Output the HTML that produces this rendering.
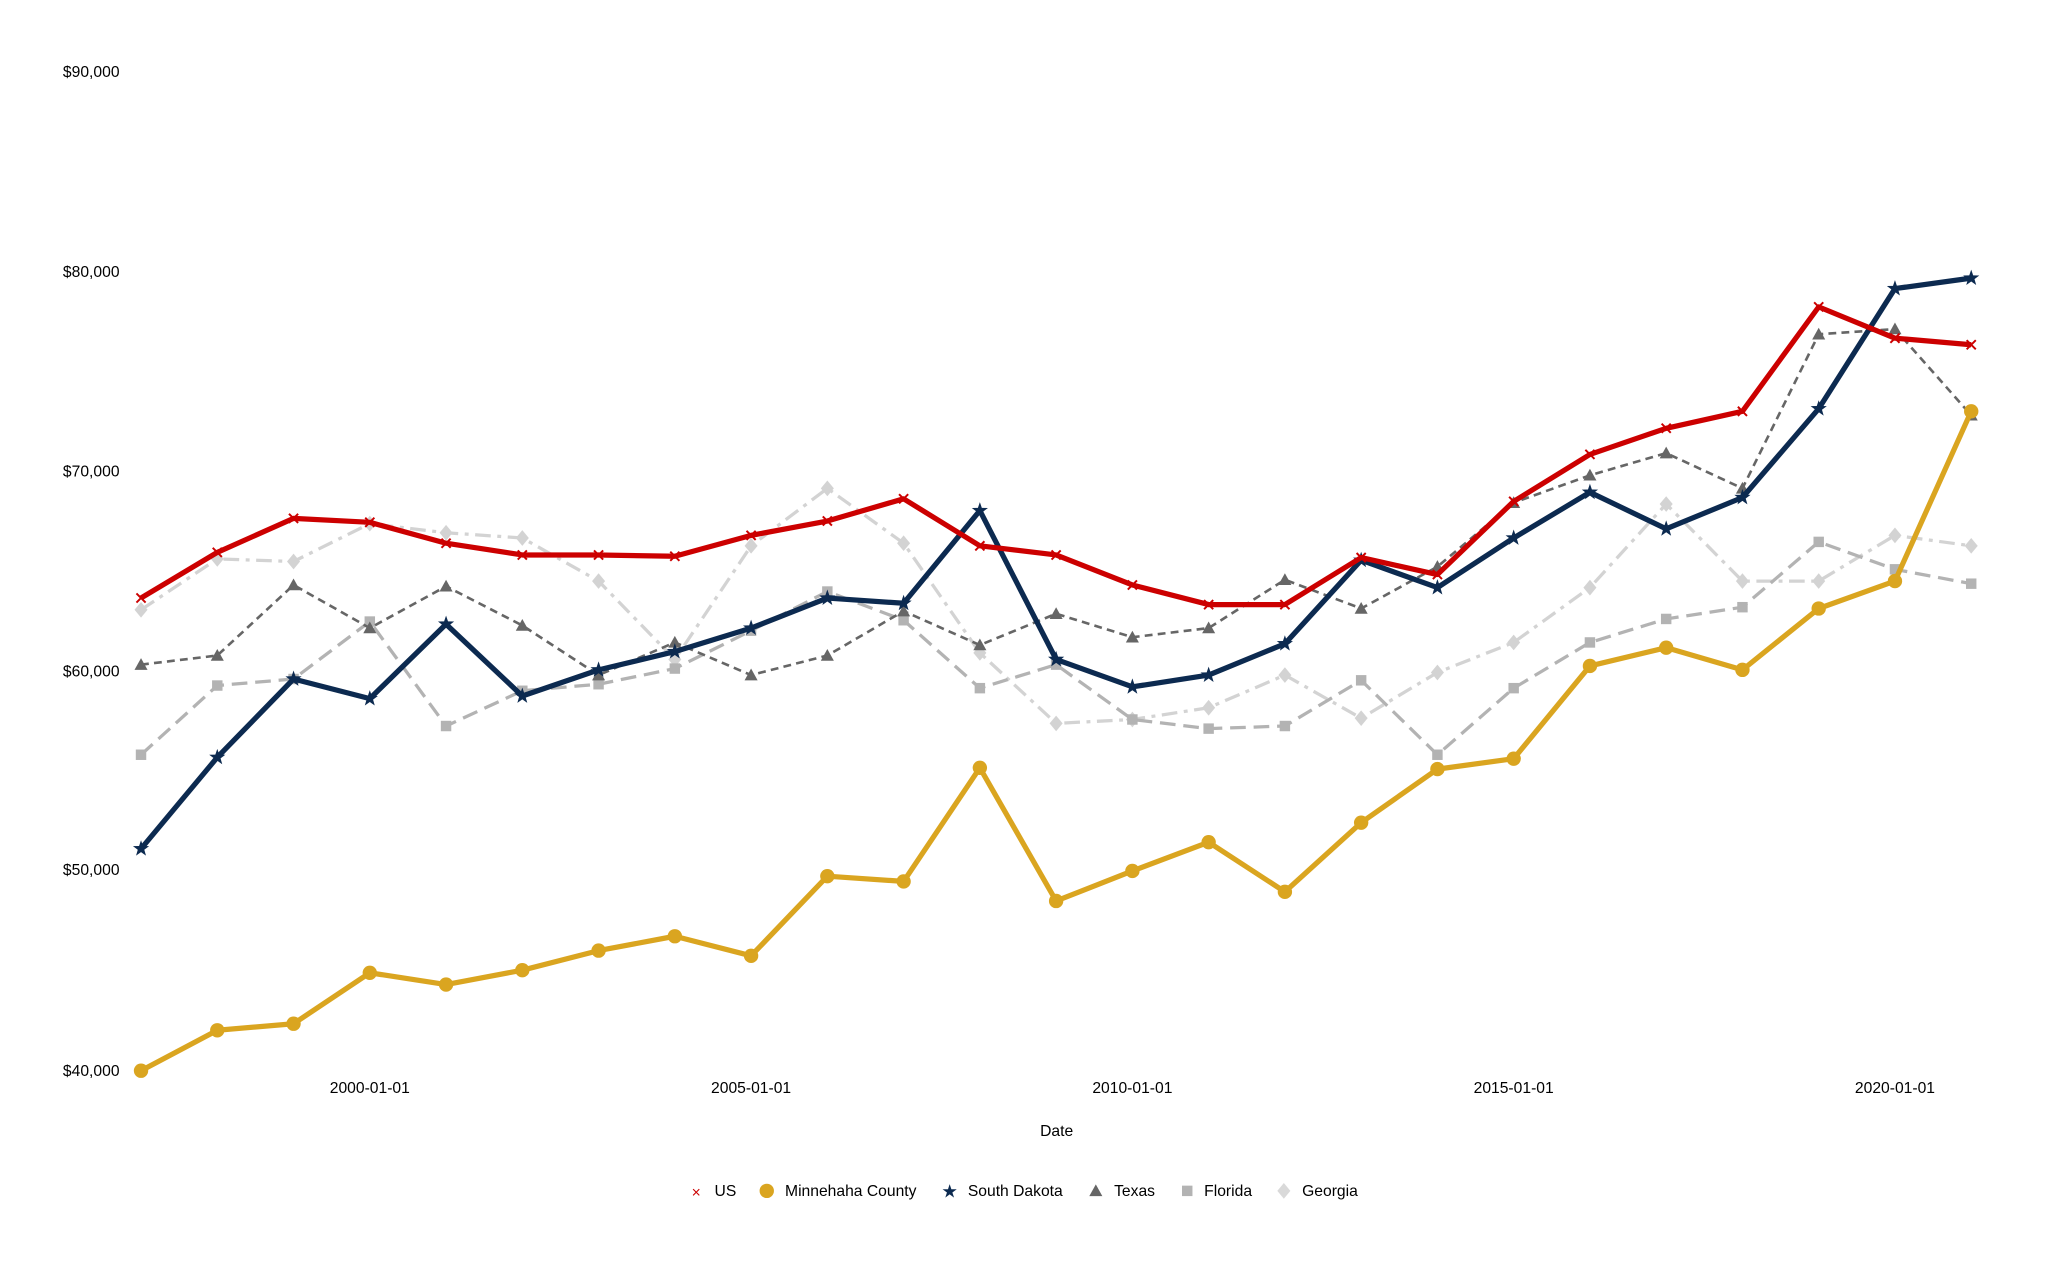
<!DOCTYPE html>
<html><head><meta charset="utf-8"><style>html,body{margin:0;padding:0;background:#fff}svg{display:block}text{font-family:"Liberation Sans",sans-serif;fill:#000}</style></head>
<body>
<svg id="s" width="2048" height="1264" viewBox="0 0 1568 968" xmlns="http://www.w3.org/2000/svg">
<g font-size="12" text-anchor="start">
<text x="48" y="59">$90,000</text>
<text x="48" y="212">$80,000</text>
<text x="48" y="365">$70,000</text>
<text x="48" y="518">$60,000</text>
<text x="48" y="670">$50,000</text>
<text x="48" y="824">$40,000</text>
</g>
<g font-size="12" text-anchor="middle">
<text x="283" y="837">2000-01-01</text>
<text x="575" y="837">2005-01-01</text>
<text x="867" y="837">2010-01-01</text>
<text x="1159" y="837">2015-01-01</text>
<text x="1451" y="837">2020-01-01</text>
<text x="809" y="870">Date</text>
</g>
<g id="series"></g>
<g font-size="12">
<text x="533" y="917" text-anchor="middle" fill="#cc0000" style="fill:#cc0000">×</text>
<text x="547" y="916">US</text>
<circle cx="587" cy="912" r="5.5" fill="#daa520"/>
<text x="601" y="916">Minnehaha County</text>
<text x="727" y="917" text-anchor="middle" style="fill:#0c2a50" font-size="14">★</text>
<text x="741" y="916">South Dakota</text>
<polygon points="839,907 844,916 834,916" fill="#666"/>
<text x="853" y="916">Texas</text>
<rect x="905" y="908" width="8" height="8" fill="#b3b3b3"/>
<text x="922" y="916">Florida</text>
<polygon points="983,906 988,912 983,918 978,912" fill="#d9d9d9"/>
<text x="997" y="916">Georgia</text>
</g>
</svg>
<script>
const X=i=>107.8+58.4*i;
const S=[
{c:"#d3d3d3",w:2.5,d:"12 5 3 5",m:"dia",v:[467,428,430,401,408,412,445,505,418,374,416,500,554,551,542,517,550,515,492,450,386,445,445,410,418]},
{c:"#b3b3b3",w:2.5,d:"12 6",m:"sq",v:[578,525,520,476,556,529,524,512,483,453,475,527,509,551,558,556,521,578,527,492,474,465,415,436,447]},
{c:"#666666",w:2,d:"6 4",m:"tri",v:[509,502,448,481,449,479,517,492,517,502,468,494,470,488,481,444,466,434,385,364,347,374,256,252,318]},
{c:"#daa520",w:4,d:"",m:"circ",v:[820,789,784,745,754,743,728,717,732,671,675,588,690,667,645,683,630,589,581,510,496,513,466,445,315]},
{c:"#0c2a50",w:4,d:"",m:"star",v:[650,580,520,535,478,533,513,499,481,458,462,391,505,526,517,493,429,450,412,377,405,381,313,221,213]},
{c:"#cc0000",w:4,d:"",m:"x",v:[458,423,397,400,416,425,425,426,410,399,382,418,425,448,463,463,427,440,384,348,328,315,235,259,264]}
];
const g=document.getElementById("series");let h="";
for(const s of S){
 h+=`<polyline fill="none" stroke="${s.c}" stroke-width="${s.w}" stroke-linejoin="round" ${s.d?`stroke-dasharray="${s.d}"`:""} points="${s.v.map((y,i)=>X(i).toFixed(1)+","+y).join(" ")}"/>`;
 s.v.forEach((y,i)=>{const x=X(i);
  if(s.m=="circ")h+=`<circle cx="${x}" cy="${y}" r="5.5" fill="${s.c}"/>`;
  else if(s.m=="sq")h+=`<rect x="${x-4}" y="${y-4}" width="8" height="8" fill="${s.c}"/>`;
  else if(s.m=="tri")h+=`<polygon points="${x},${y-5} ${x+5},${y+4} ${x-5},${y+4}" fill="${s.c}"/>`;
  else if(s.m=="dia")h+=`<polygon points="${x},${y-6} ${x+5},${y} ${x},${y+6} ${x-5},${y}" fill="${s.c}"/>`;
  else if(s.m=="x")h+=`<path d="M${x-3.5},${y-3.5}L${x+3.5},${y+3.5}M${x+3.5},${y-3.5}L${x-3.5},${y+3.5}" stroke="${s.c}" stroke-width="1.5"/>`;
  else if(s.m=="star"){let p=[];for(let k=0;k<10;k++){const r=k%2?2.6:6.5,a=-Math.PI/2+k*Math.PI/5;p.push((x+r*Math.cos(a)).toFixed(1)+","+(y+r*Math.sin(a)).toFixed(1));}h+=`<polygon points="${p.join(" ")}" fill="${s.c}"/>`;}
 });
}
g.innerHTML=h;
</script>
</body></html>
